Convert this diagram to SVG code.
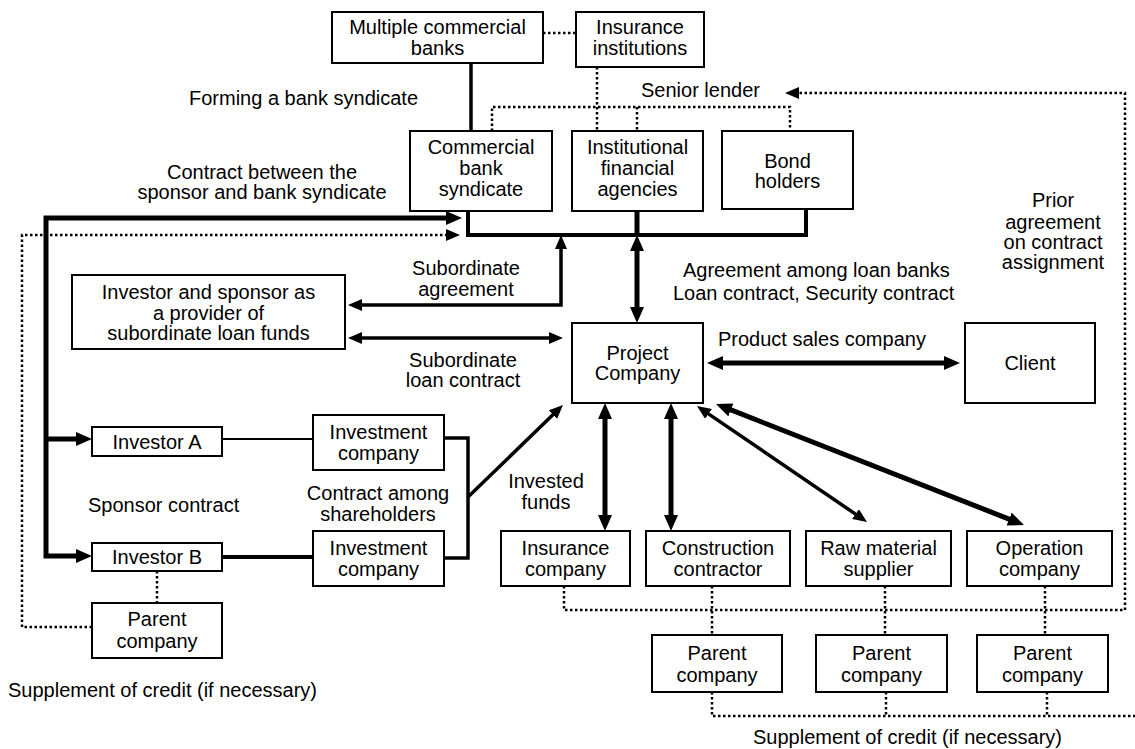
<svg xmlns="http://www.w3.org/2000/svg" width="1135" height="749" viewBox="0 0 1135 749">
<defs>
<style>
.box{fill:#fff;stroke:#000;stroke-width:2}
text{font-family:"Liberation Sans",Arial,sans-serif;font-size:20px;fill:#000}
.c{text-anchor:middle}
.thick{fill:none;stroke:#000;stroke-width:5}
.mid{fill:none;stroke:#000;stroke-width:3.5}
.thin{fill:none;stroke:#000;stroke-width:2}
.dot{fill:none;stroke:#000;stroke-width:2.5;stroke-dasharray:2.5 2.5}
</style>
<marker id="ah" markerUnits="userSpaceOnUse" markerWidth="16" markerHeight="14" refX="6" refY="7" orient="auto-start-reverse"><path d="M0,0 L16,7 L0,14 z" fill="#000"/></marker>
<marker id="am" markerUnits="userSpaceOnUse" markerWidth="14" markerHeight="12" refX="5" refY="6" orient="auto-start-reverse"><path d="M0,0 L14,6 L0,12 z" fill="#000"/></marker>
</defs>
<rect width="1135" height="749" fill="#fff"/>
<g id="connectors">
<line class="dot" x1="543" y1="33" x2="576" y2="33"/>
<line class="mid" x1="471" y1="63" x2="471" y2="131"/>
<line class="dot" x1="597" y1="67" x2="597" y2="131"/>
<polyline class="dot" points="492,131 492,107 790,107 790,131"/>
<line class="dot" x1="637" y1="107" x2="637" y2="131"/>
<polyline class="dot" points="1125,610 1125,93 794,93" marker-end="url(#am)"/>
<polyline class="thick" points="468,211 468,235 806,235 806,209" style="stroke-width:4"/>
<line class="thick" x1="637" y1="211" x2="637" y2="235"/>
<polyline class="thick" points="82,556 46,556 46,218 452,218" marker-start="url(#ah)" marker-end="url(#ah)"/>
<line class="thick" x1="46" y1="439" x2="82" y2="439" marker-end="url(#ah)"/>
<polyline class="dot" points="92,627 22,627 22,235 451,235" marker-end="url(#am)"/>
<polyline class="mid" points="561,244 561,305 357,305" marker-start="url(#am)" marker-end="url(#am)"/>
<line class="mid" x1="357" y1="338" x2="554" y2="338" marker-start="url(#am)" marker-end="url(#am)"/>
<line class="thick" x1="637" y1="245" x2="637" y2="313" marker-start="url(#ah)" marker-end="url(#ah)"/>
<line class="thick" x1="717" y1="363" x2="950" y2="363" marker-start="url(#ah)" marker-end="url(#ah)"/>
<line class="thick" x1="605" y1="413" x2="605" y2="521" marker-start="url(#ah)" marker-end="url(#ah)"/>
<line class="thick" x1="671" y1="413" x2="671" y2="521" marker-start="url(#ah)" marker-end="url(#ah)"/>
<line class="mid" x1="704.4" y1="411.1" x2="859.6" y2="516.9" marker-start="url(#am)" marker-end="url(#am)"/>
<line class="thick" x1="725.3" y1="407.7" x2="1014.7" y2="521.3" marker-start="url(#ah)" marker-end="url(#ah)"/>
<line class="mid" x1="468" y1="497" x2="556.5" y2="411.3" marker-end="url(#am)"/>
<polyline class="mid" points="444,438 468,438 468,558 444,558"/>
<line class="thin" x1="222" y1="439" x2="313" y2="439"/>
<line class="thick" x1="222" y1="557" x2="313" y2="557" style="stroke-width:4"/>
<line class="dot" x1="157" y1="571" x2="157" y2="603"/>
<polyline class="dot" points="564,586 564,610 1125,610"/>
<line class="dot" x1="712" y1="586" x2="712" y2="635"/>
<line class="dot" x1="885" y1="586" x2="885" y2="635"/>
<line class="dot" x1="1045" y1="586" x2="1045" y2="635"/>
<polyline class="dot" points="712,692 712,716 1135,716"/>
<line class="dot" x1="886" y1="692" x2="886" y2="716"/>
<line class="dot" x1="1047" y1="692" x2="1047" y2="716"/>
</g>
<g id="n-multiple-banks"><rect class="box" x="332" y="12" width="211" height="51"/><text class="c" x="437.5" y="34">Multiple commercial</text><text class="c" x="437.5" y="55">banks</text></g>
<g id="n-insurance-institutions"><rect class="box" x="576" y="12" width="128" height="55"/><text class="c" x="640" y="34">Insurance</text><text class="c" x="640" y="55">institutions</text></g>
<g id="n-commercial-syndicate"><rect class="box" x="410" y="131" width="142" height="80"/><text class="c" x="481" y="154">Commercial</text><text class="c" x="481" y="175">bank</text><text class="c" x="481" y="196">syndicate</text></g>
<g id="n-institutional"><rect class="box" x="572" y="131" width="131" height="80"/><text class="c" x="637.5" y="154">Institutional</text><text class="c" x="637.5" y="175">financial</text><text class="c" x="637.5" y="196">agencies</text></g>
<g id="n-bond-holders"><rect class="box" x="722" y="131" width="131" height="78"/><text class="c" x="787.5" y="168">Bond</text><text class="c" x="787.5" y="188">holders</text></g>
<g id="n-subordinate-provider"><rect class="box" x="72" y="275" width="273" height="74"/><text class="c" x="208.5" y="299">Investor and sponsor as</text><text class="c" x="208.5" y="320">a provider of</text><text class="c" x="208.5" y="340">subordinate loan funds</text></g>
<g id="n-project-company"><rect class="box" x="572" y="323" width="131" height="80"/><text class="c" x="637.5" y="360">Project</text><text class="c" x="637.5" y="380">Company</text></g>
<g id="n-client"><rect class="box" x="965" y="323" width="130" height="80"/><text class="c" x="1030" y="370">Client</text></g>
<g id="n-investor-a"><rect class="box" x="92" y="427" width="130" height="29"/><text class="c" x="157" y="449">Investor A</text></g>
<g id="n-investment-a"><rect class="box" x="313" y="415" width="131" height="55"/><text class="c" x="378.5" y="439">Investment</text><text class="c" x="378.5" y="460">company</text></g>
<g id="n-investor-b"><rect class="box" x="92" y="543" width="130" height="28"/><text class="c" x="157" y="564">Investor B</text></g>
<g id="n-investment-b"><rect class="box" x="313" y="531" width="131" height="55"/><text class="c" x="378.5" y="555">Investment</text><text class="c" x="378.5" y="576">company</text></g>
<g id="n-parent-left"><rect class="box" x="92" y="603" width="130" height="55"/><text class="c" x="157" y="626">Parent</text><text class="c" x="157" y="648">company</text></g>
<g id="n-insurance-company"><rect class="box" x="501" y="531" width="129" height="55"/><text class="c" x="565.5" y="555">Insurance</text><text class="c" x="565.5" y="576">company</text></g>
<g id="n-construction"><rect class="box" x="646" y="531" width="144" height="55"/><text class="c" x="718" y="555">Construction</text><text class="c" x="718" y="576">contractor</text></g>
<g id="n-raw-material"><rect class="box" x="806" y="531" width="145" height="55"/><text class="c" x="878.5" y="555">Raw material</text><text class="c" x="878.5" y="576">supplier</text></g>
<g id="n-operation"><rect class="box" x="967" y="531" width="145" height="55"/><text class="c" x="1039.5" y="555">Operation</text><text class="c" x="1039.5" y="576">company</text></g>
<g id="n-parent-1"><rect class="box" x="652" y="635" width="130" height="57"/><text class="c" x="717" y="660">Parent</text><text class="c" x="717" y="682">company</text></g>
<g id="n-parent-2"><rect class="box" x="816" y="635" width="131" height="57"/><text class="c" x="881.5" y="660">Parent</text><text class="c" x="881.5" y="682">company</text></g>
<g id="n-parent-3"><rect class="box" x="977" y="635" width="131" height="57"/><text class="c" x="1042.5" y="660">Parent</text><text class="c" x="1042.5" y="682">company</text></g>
<g id="labels">
<text x="189" y="105">Forming a bank syndicate</text>
<text x="641" y="97">Senior lender</text>
<text class="c" x="262" y="179">Contract between the</text>
<text class="c" x="262" y="199">sponsor and bank syndicate</text>
<text class="c" x="1053" y="207">Prior</text>
<text class="c" x="1053" y="229">agreement</text>
<text class="c" x="1053" y="249">on contract</text>
<text class="c" x="1053" y="269">assignment</text>
<text x="683" y="277">Agreement among loan banks</text>
<text x="673" y="300">Loan contract, Security contract</text>
<text class="c" x="466" y="275">Subordinate</text>
<text class="c" x="466" y="296">agreement</text>
<text class="c" x="463" y="367">Subordinate</text>
<text class="c" x="463" y="387">loan contract</text>
<text x="718" y="346">Product sales company</text>
<text x="88" y="512">Sponsor contract</text>
<text class="c" x="378" y="500">Contract among</text>
<text class="c" x="378" y="521">shareholders</text>
<text class="c" x="546" y="488">Invested</text>
<text class="c" x="546" y="509">funds</text>
<text x="8" y="697">Supplement of credit (if necessary)</text>
<text x="753" y="744">Supplement of credit (if necessary)</text>
</g>
</svg>
